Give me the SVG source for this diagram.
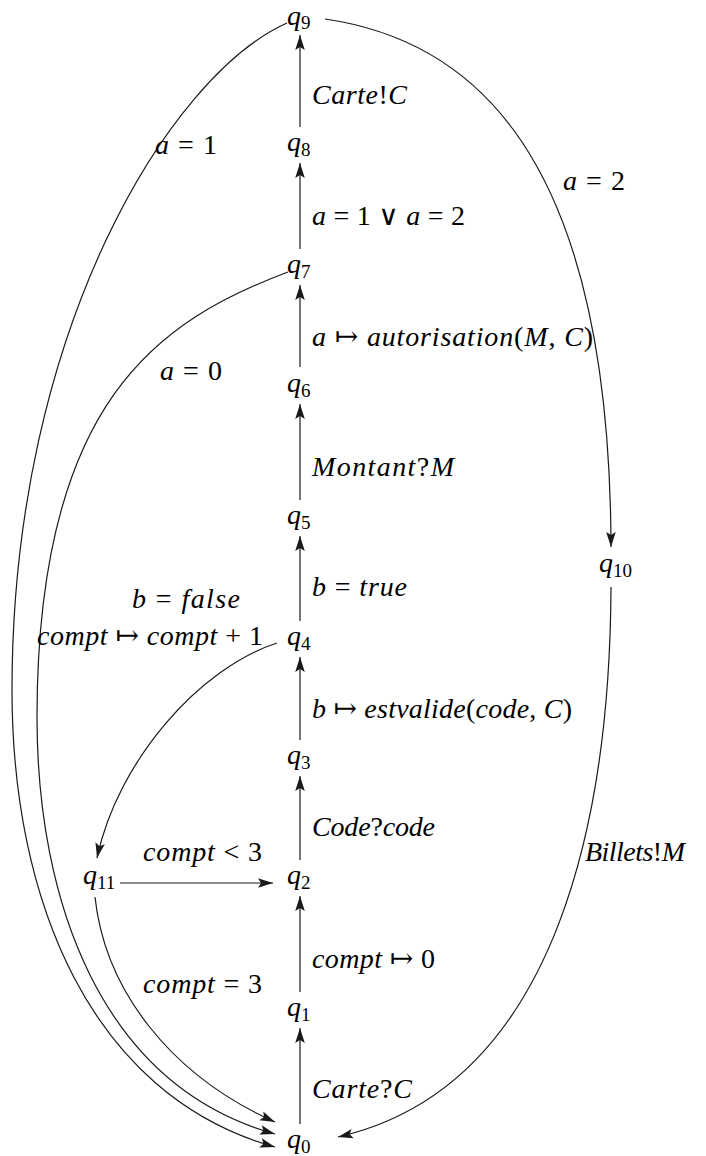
<svg xmlns="http://www.w3.org/2000/svg" width="706" height="1156" viewBox="0 0 706 1156">
<style>
text{font-family:"Liberation Serif","DejaVu Serif",serif;font-size:28px;fill:#000}
.i{font-style:italic}
.sub{font-size:19px}
.e{fill:none;stroke:#1a1a1a;stroke-width:1.2}
</style>
<defs>
<marker id="ah" viewBox="-16 -6 17 12" markerWidth="17" markerHeight="12" refX="0" refY="0" orient="auto" markerUnits="userSpaceOnUse">
<path d="M0,0 L-15,-4.8 L-12,0 L-15,4.8 Z" fill="#1a1a1a"/>
</marker>
</defs>
<rect width="706" height="1156" fill="#fff"/>
<g id="connectors">
<path class="e" marker-end="url(#ah)" d="M300 1124 L300 1028"/>
<path class="e" marker-end="url(#ah)" d="M300 992 L300 896"/>
<path class="e" marker-end="url(#ah)" d="M300 860 L300 776"/>
<path class="e" marker-end="url(#ah)" d="M300 740 L300 657"/>
<path class="e" marker-end="url(#ah)" d="M300 621 L300 536"/>
<path class="e" marker-end="url(#ah)" d="M300 500 L300 404"/>
<path class="e" marker-end="url(#ah)" d="M300 367 L300 285"/>
<path class="e" marker-end="url(#ah)" d="M300 249 L300 163"/>
<path class="e" marker-end="url(#ah)" d="M300 127 L300 35"/>
<path class="e" marker-end="url(#ah)" d="M325 19 C470 40 610 150 611 547"/>
<path class="e" marker-end="url(#ah)" d="M611 587 C610 800 565 1085 338 1137"/>
<path class="e" marker-end="url(#ah)" d="M287 23 C170 75 12 330 12 690 C12 900 90 1095 275 1147"/>
<path class="e" marker-end="url(#ah)" d="M288 272 C160 320 37 400 37 717 C37 900 100 1085 275 1134"/>
<path class="e" marker-end="url(#ah)" d="M95 897 C105 990 170 1075 275 1122"/>
<path class="e" marker-end="url(#ah)" d="M277 643 C200 668 118 760 97 858"/>
<path class="e" marker-end="url(#ah)" d="M120 883 L273 883"/>
</g>
<g id="edge-labels">
<text x="312" y="104" textLength="95" lengthAdjust="spacing"><tspan class="i">Carte</tspan>!<tspan class="i">C</tspan></text>
<text x="312" y="225" textLength="153" lengthAdjust="spacing"><tspan class="i">a</tspan> = 1 ∨ <tspan class="i">a</tspan> = 2</text>
<text x="312" y="346" textLength="281" lengthAdjust="spacing"><tspan class="i">a</tspan> ↦ <tspan class="i">autorisation</tspan>(<tspan class="i">M</tspan>, <tspan class="i">C</tspan>)</text>
<text x="312" y="476" textLength="142" lengthAdjust="spacing"><tspan class="i">Montant</tspan>?<tspan class="i">M</tspan></text>
<text x="312" y="596" textLength="95" lengthAdjust="spacing"><tspan class="i">b</tspan> = <tspan class="i">true</tspan></text>
<text x="312" y="718" textLength="260" lengthAdjust="spacing"><tspan class="i">b</tspan> ↦ <tspan class="i">estvalide</tspan>(<tspan class="i">code</tspan>, <tspan class="i">C</tspan>)</text>
<text x="312" y="836" textLength="123" lengthAdjust="spacing"><tspan class="i">Code</tspan>?<tspan class="i">code</tspan></text>
<text x="312" y="968" textLength="123" lengthAdjust="spacing"><tspan class="i">compt</tspan> ↦ 0</text>
<text x="312" y="1098" textLength="100" lengthAdjust="spacing"><tspan class="i">Carte</tspan>?<tspan class="i">C</tspan></text>
<text x="155" y="154" textLength="62" lengthAdjust="spacing"><tspan class="i">a</tspan> = 1</text>
<text x="160" y="380" textLength="62" lengthAdjust="spacing"><tspan class="i">a</tspan> = 0</text>
<text x="563" y="190" textLength="62" lengthAdjust="spacing"><tspan class="i">a</tspan> = 2</text>
<text x="132" y="608" textLength="108" lengthAdjust="spacing"><tspan class="i">b</tspan> = <tspan class="i">false</tspan></text>
<text x="37" y="645" textLength="226" lengthAdjust="spacing"><tspan class="i">compt</tspan> ↦ <tspan class="i">compt</tspan> + 1</text>
<text x="143" y="861" textLength="119" lengthAdjust="spacing"><tspan class="i">compt</tspan> &lt; 3</text>
<text x="143" y="993" textLength="119" lengthAdjust="spacing"><tspan class="i">compt</tspan> = 3</text>
<text x="585" y="861" textLength="100" lengthAdjust="spacing"><tspan class="i">Billets</tspan>!<tspan class="i">M</tspan></text>
</g>
<g id="q9"><text x="287" y="25"><tspan class="i">q</tspan><tspan class="sub" dy="4">9</tspan></text></g>
<g id="q8"><text x="287" y="151"><tspan class="i">q</tspan><tspan class="sub" dy="5">8</tspan></text></g>
<g id="q7"><text x="287" y="273"><tspan class="i">q</tspan><tspan class="sub" dy="5">7</tspan></text></g>
<g id="q6"><text x="287" y="392"><tspan class="i">q</tspan><tspan class="sub" dy="5">6</tspan></text></g>
<g id="q5"><text x="287" y="524"><tspan class="i">q</tspan><tspan class="sub" dy="5">5</tspan></text></g>
<g id="q4"><text x="287" y="645"><tspan class="i">q</tspan><tspan class="sub" dy="5">4</tspan></text></g>
<g id="q3"><text x="287" y="764"><tspan class="i">q</tspan><tspan class="sub" dy="5">3</tspan></text></g>
<g id="q2"><text x="287" y="884"><tspan class="i">q</tspan><tspan class="sub" dy="5">2</tspan></text></g>
<g id="q1"><text x="287" y="1016"><tspan class="i">q</tspan><tspan class="sub" dy="5">1</tspan></text></g>
<g id="q0"><text x="287" y="1148"><tspan class="i">q</tspan><tspan class="sub" dy="5">0</tspan></text></g>
<g id="q10"><text x="599" y="572"><tspan class="i">q</tspan><tspan class="sub" dy="5">10</tspan></text></g>
<g id="q11"><text x="83" y="884"><tspan class="i">q</tspan><tspan class="sub" dy="5">11</tspan></text></g>
</svg>
